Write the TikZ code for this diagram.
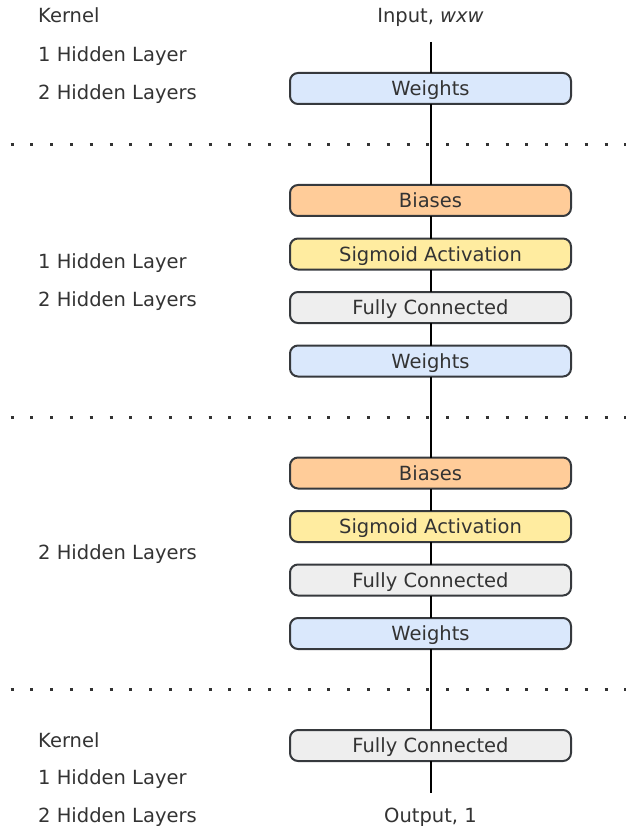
\documentclass[tikz,border=0pt]{standalone}
\usepackage{fontspec}
\setmainfont{DejaVu Sans}
\usepackage{xcolor}
\usetikzlibrary{positioning,calc}

\definecolor{ink}{HTML}{333333}
\definecolor{edge}{HTML}{36393D}
\definecolor{wfill}{HTML}{DAE8FC}
\definecolor{bfill}{HTML}{FFCC99}
\definecolor{sfill}{HTML}{FFECA0}
\definecolor{ffill}{HTML}{EEEEEE}

\begin{document}
\begin{tikzpicture}[
    x=1pt, y=-1pt,
    node distance=22.5pt,
    font=\fontsize{19.5}{23}\selectfont,
    every node/.style={text=ink},
    layer/.style={draw=edge, line width=2pt, rounded corners=8pt, minimum width=281pt,
                  minimum height=31pt, text height=14pt, text depth=0pt, inner sep=0pt,
                  outer sep=0pt},
    weights/.style={layer, fill=wfill},
    biases/.style={layer, fill=bfill},
    sigmoid/.style={layer, fill=sfill},
    dense/.style={layer, fill=ffill},
    tag/.style={anchor=base west, inner sep=0pt},
    io/.style={anchor=base, inner sep=0pt},
    cut/.style={draw=ink, line width=3pt, dash pattern=on 3pt off 16.8pt, dash phase=9.3pt},
    flow/.style={draw=black, line width=2pt}
]
\useasboundingbox (0,0) rectangle (626,826);
\coordinate (lft) at (0,0);
\coordinate (rgt) at (626,0);

% network column
\node[weights] (w1) at (430.5,88.5) {Weights};
\node[biases, below=81pt of w1] (b1) {Biases};
\node[sigmoid, below=of b1] (s1) {Sigmoid Activation};
\node[dense, below=of s1] (fc1) {Fully Connected};
\node[weights, below=of fc1] (w2) {Weights};
\node[biases, below=81pt of w2] (b2) {Biases};
\node[sigmoid, below=of b2] (s2) {Sigmoid Activation};
\node[dense, below=of s2] (fc2) {Fully Connected};
\node[weights, below=of fc2] (w3) {Weights};
\node[dense, below=81pt of w3] (fc3) {Fully Connected};

\node[io] (input) at (430.5,23) {Input, \textit{wxw}};
\node[io] (output) at (430.5,822) {Output, 1};
\coordinate (in) at (430.5,42);
\coordinate (out) at (430.5,793);

% section labels
\node[tag] (k1) at (38,23) {Kernel};
\node[tag] (h1a) at (38,61.5) {1 Hidden Layer};
\node[tag] (h2a) at (38,99.5) {2 Hidden Layers};
\node[tag] (h1b) at (38,268) {1 Hidden Layer};
\node[tag] (h2b) at (38,306) {2 Hidden Layers};
\node[tag] (h2c) at (38,559) {2 Hidden Layers};
\node[tag] (k2) at (38,747) {Kernel};
\node[tag] (h1d) at (38,784) {1 Hidden Layer};
\node[tag] (h2d) at (38,822) {2 Hidden Layers};

% dotted separators
\path ($(w1.south)!0.5!(b1.north)$) coordinate (cut1);
\path ($(w2.south)!0.5!(b2.north)$) coordinate (cut2);
\path ($(w3.south)!0.5!(fc3.north)$) coordinate (cut3);
\foreach \c in {cut1,cut2,cut3}
  \draw[cut] (lft |- \c) -- (rgt |- \c);

% vertical flow
\draw[flow] (in) -- (w1) -- (b1) -- (s1) -- (fc1) -- (w2) -- (b2) -- (s2) -- (fc2) -- (w3) -- (fc3) -- (out);
\end{tikzpicture}
\end{document}
